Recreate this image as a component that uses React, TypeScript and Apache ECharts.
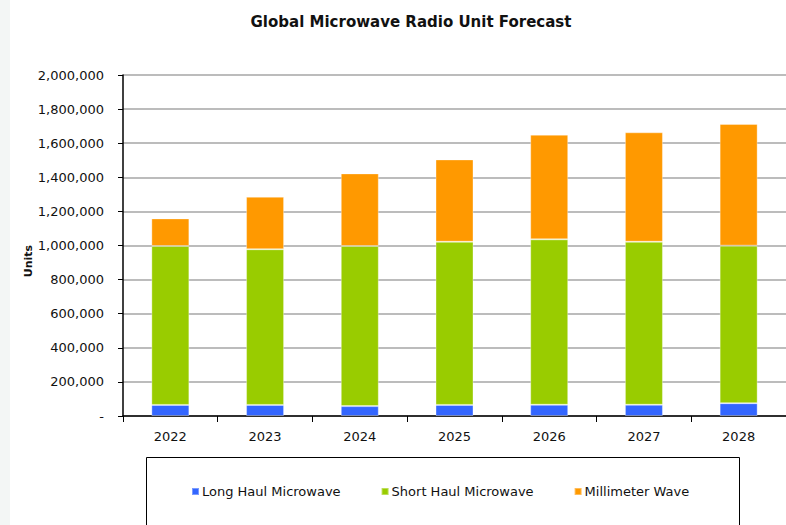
import React, { useEffect, useRef } from "react";
import * as echarts from "echarts";

const categories = ["2022", "2023", "2024", "2025", "2026", "2027", "2028"];
const longHaul = [65000, 65000, 58000, 65000, 66000, 66000, 75000];
const shortHaul = [932000, 913000, 939000, 957000, 970000, 956000, 924000];
const millimeter = [162000, 308000, 426000, 483000, 614000, 642000, 714000];
const seriesNames = ["Long Haul Microwave", "Short Haul Microwave", "Millimeter Wave"];
const colors = ["#3366FF", "#99CC00", "#FF9900"];
const yAxisTitle = "Units";

const FONT = "DejaVu Sans";

export default function App() {
  const ref = useRef<HTMLDivElement>(null);
  useEffect(() => {
    document.body.style.margin = "0";
    const chart = echarts.init(ref.current!, null, { renderer: "svg" });
    const data = [longHaul, shortHaul, millimeter];
    chart.setOption({
      animation: false,
      backgroundColor: "#ffffff",
      title: {
        text: "Global Microwave Radio Unit Forecast",
        left: 406,
        textAlign: "center",
        top: 9,
        textStyle: { fontFamily: FONT, fontSize: 15, fontWeight: "bold", color: "#111" },
      },
      grid: { left: 123, top: 75, width: 675.5, height: 341 },
      legend: {
        data: seriesNames,
        left: 186,
        top: 480,
        icon: "rect",
        itemWidth: 7,
        itemHeight: 7,
        itemGap: 40,
        textStyle: { fontFamily: FONT, fontSize: 13, color: "#111", padding: [0, 0, 0, -2] },
      },
      xAxis: {
        type: "category",
        data: categories,
        axisLine: { lineStyle: { color: "#000", width: 1.5 } },
        axisTick: { show: true, length: 6, lineStyle: { color: "#000" } },
        axisLabel: { fontFamily: FONT, fontSize: 13, color: "#111", margin: 14 },
      },
      yAxis: {
        type: "value",
        min: 0,
        max: 2000000,
        interval: 200000,
        axisLine: { show: true, lineStyle: { color: "#000", width: 1.5 } },
        axisTick: { show: true, length: 5, inside: false, lineStyle: { color: "#000" } },
        splitLine: { lineStyle: { color: "#A6A6A6", width: 1.5 } },
        axisLabel: {
          fontFamily: FONT,
          fontSize: 13,
          color: "#111",
          margin: 19,
          formatter: (v: number) => (v === 0 ? "-" : v.toLocaleString("en-US")),
        },
      },
      series: data.map((d, i) => ({
        name: seriesNames[i],
        type: "bar",
        stack: "total",
        data: d,
        barWidth: 38,
        itemStyle: { color: colors[i], borderColor: "rgba(255,255,255,0.35)", borderWidth: 1 },
      })),
      graphic: [
        {
          type: "rect",
          left: 0,
          top: 0,
          shape: { width: 10, height: 525 },
          style: { fill: "#f3f6f5" },
          silent: true,
        },
        {
          type: "rect",
          shape: { x: 146.5, y: 457.5, width: 593, height: 90 },
          style: { fill: "none", stroke: "#000", lineWidth: 1 },
          silent: true,
        },
        {
          type: "text",
          x: 28,
          y: 261,
          rotation: Math.PI / 2,
          style: {
            text: yAxisTitle,
            fontFamily: FONT,
            fontSize: 11,
            fontWeight: "bold",
            fill: "#111",
            align: "center",
            verticalAlign: "middle",
          },
          silent: true,
        },
      ],
    });
    return () => chart.dispose();
  }, []);
  return <div ref={ref} style={{ width: 786, height: 525 }} />;
}
